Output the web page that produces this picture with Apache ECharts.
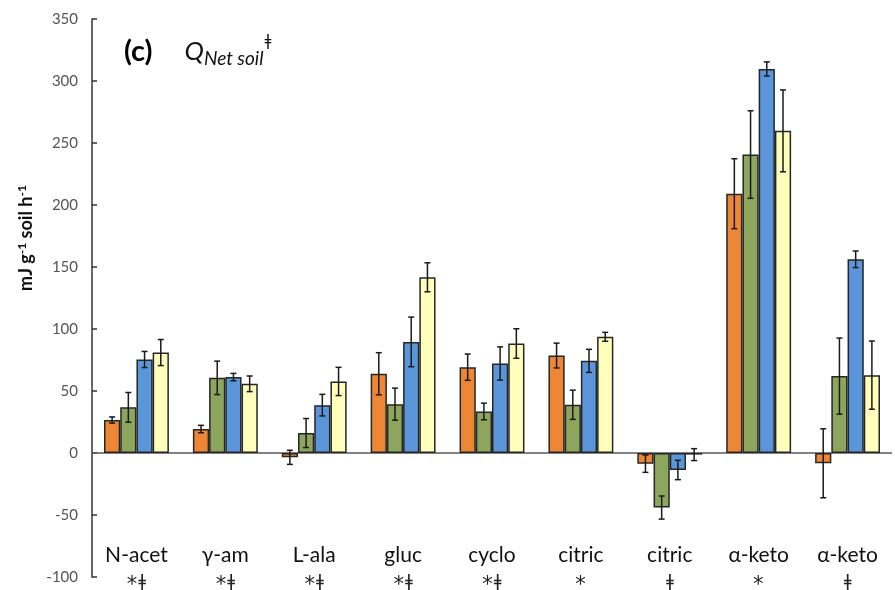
<!DOCTYPE html>
<html>
<head>
<meta charset="utf-8">
<script src="https://cdn.jsdelivr.net/npm/echarts@6/dist/echarts.min.js"></script>
<style>html,body{margin:0;padding:0;background:#fff}#c{width:895px;height:590px}</style>
</head>
<body>
<div id="c"></div>
<script>
const categories = ['N-acet', 'γ-am', 'L-ala', 'gluc', 'cyclo', 'citric', 'citric', 'α-keto', 'α-keto'];
const markers = ['*ǂ', '*ǂ', '*ǂ', '*ǂ', '*ǂ', '*', 'ǂ', '*', 'ǂ'];
const yTicks = [-100, -50, 0, 50, 100, 150, 200, 250, 300, 350];

const orangeVals = [26.6, 19.3, -3.5, 63.9, 69.2, 78.6, -8.6, 209.1, -8.3];
const orangeErr  = [2.5, 3, 5.7, 17, 10.6, 10, 7, 28.2, 27.8];
const greenVals  = [36.8, 60.6, 16.1, 39.4, 33.5, 38.9, -44, 240.7, 62];
const greenErr   = [12, 13.5, 11.7, 12.9, 6.7, 11.8, 9.3, 35.3, 30.7];
const blueVals   = [75.4, 61.2, 38.6, 89.6, 72.2, 74.3, -13.7, 309.7, 156.2];
const blueErr    = [6.5, 3, 8.7, 20, 13.4, 9.3, 7.8, 5.7, 6.7];
const yellowVals = [81, 55.8, 57.7, 141.7, 88.3, 93.7, -1.3, 259.8, 62.8];
const yellowErr  = [10.5, 6.3, 11.4, 11.7, 11.9, 3.6, 4.8, 33, 27.5];

const seriesVals = [orangeVals, greenVals, blueVals, yellowVals];
const seriesErr = [orangeErr, greenErr, blueErr, yellowErr];
const colors = ['#ED8735', '#8EA55E', '#5B96DA', '#FFFFBB'];

function markerRich(m) {
  return Array.from(m).map(ch => ch === '*' ? '{a|*}' : '{d|' + ch + '}').join('');
}
const labels = categories.map((c, i) => '{n|' + c + '}\n' + markerRich(markers[i]));
const catGap = 0.27;
const font = 'Lato, "Open Sans", sans-serif';

const series = [];
seriesVals.forEach((vals, s) => {
  const bar = {
    type: 'bar',
    data: vals,
    barGap: '0%',
    barCategoryGap: (catGap * 100) + '%',
    itemStyle: { color: colors[s], borderColor: '#262626', borderWidth: 1.5 },
    z: 2
  };
  if (s === 0) {
    bar.markLine = {
      silent: true, symbol: 'none', label: { show: false },
      lineStyle: { color: '#595959', width: 1.5, type: 'solid' },
      data: [{ yAxis: 0 }], z: 1
    };
  }
  series.push(bar);
});
seriesVals.forEach((vals, s) => {
  series.push({
    type: 'custom',
    data: vals.map((v, i) => [i, v - seriesErr[s][i], v + seriesErr[s][i]]),
    z: 5,
    renderItem: function (params, api) {
      const x = api.value(0);
      const lo = api.coord([x, api.value(1)]);
      const hi = api.coord([x, api.value(2)]);
      const band = api.size([1, 0])[0];
      const bw = band * (1 - catGap) / 4;
      const cx = lo[0] + (s - 1.5) * bw;
      const cap = 3;
      const st = { stroke: '#1a1a1a', lineWidth: 1.5 };
      return {
        type: 'group',
        children: [
          { type: 'line', shape: { x1: cx, y1: lo[1], x2: cx, y2: hi[1] }, style: st },
          { type: 'line', shape: { x1: cx - cap, y1: lo[1], x2: cx + cap, y2: lo[1] }, style: st },
          { type: 'line', shape: { x1: cx - cap, y1: hi[1], x2: cx + cap, y2: hi[1] }, style: st }
        ]
      };
    }
  });
});

const chart = echarts.init(document.getElementById('c'));
chart.setOption({
  animation: false,
  backgroundColor: '#fff',
  title: {
    left: 119, top: 30,
    text: '{c|(c)}{gap|}{q|Q}{sub|Net soil}{sup|ǂ}',
    textStyle: {
      fontWeight: 'normal',
      rich: {
        c: { fontFamily: font, fontWeight: 'bold', fontSize: 29, color: '#000' },
        gap: { width: 32 },
        q: { fontFamily: font, fontStyle: 'italic', fontWeight: 'normal', fontSize: 26, color: '#111' },
        sub: { fontFamily: font, fontStyle: 'italic', fontWeight: 'normal', fontSize: 19, color: '#111', padding: [14, 0, 0, 0] },
        sup: { fontFamily: 'DejaVu Sans', fontWeight: 'normal', fontSize: 15, color: '#111', padding: [0, 0, 18, 1] }
      }
    }
  },
  grid: { left: 92, right: 3, top: 19, bottom: 13, containLabel: false, outerBoundsMode: 'none' },
  xAxis: {
    type: 'category',
    data: labels,
    position: 'bottom',
    offset: -38,
    axisLine: { show: false, onZero: false },
    axisTick: { show: false },
    axisLabel: {
      interval: 0, margin: 3,
      rich: {
        n: { fontFamily: font, fontSize: 21, color: '#111', lineHeight: 27 },
        a: { fontFamily: 'DejaVu Sans', fontSize: 21, color: '#222', lineHeight: 25, padding: [9, 1, 0, 0] },
        d: { fontFamily: 'DejaVu Sans', fontSize: 17, color: '#222', lineHeight: 25, padding: [2, 0, 0, 0] }
      }
    }
  },
  yAxis: {
    type: 'value',
    min: -100, max: 350, interval: 50,
    axisLine: { show: true, lineStyle: { color: '#333', width: 1.5 } },
    axisTick: { show: true, inside: true, length: 5, lineStyle: { color: '#333', width: 1.5 } },
    splitLine: { show: false },
    axisLabel: {
      margin: 14, fontFamily: font, fontSize: 15, color: '#555',
      formatter: v => yTicks.includes(v) ? String(v) : ''
    },
    name: '{n|mJ g}{s|-1}{n| soil h}{s|-1}',
    nameLocation: 'middle',
    nameRotate: 90,
    nameGap: 54,
    nameTextStyle: {
      padding: [0, 0, 0, 120],
      rich: {
        n: { fontFamily: font, fontWeight: 'bold', fontSize: 18, color: '#111' },
        s: { fontFamily: font, fontWeight: 'bold', fontSize: 12, color: '#111', padding: [0, 0, 9, 0] }
      }
    }
  },
  series: series
});
</script>
</body>
</html>
